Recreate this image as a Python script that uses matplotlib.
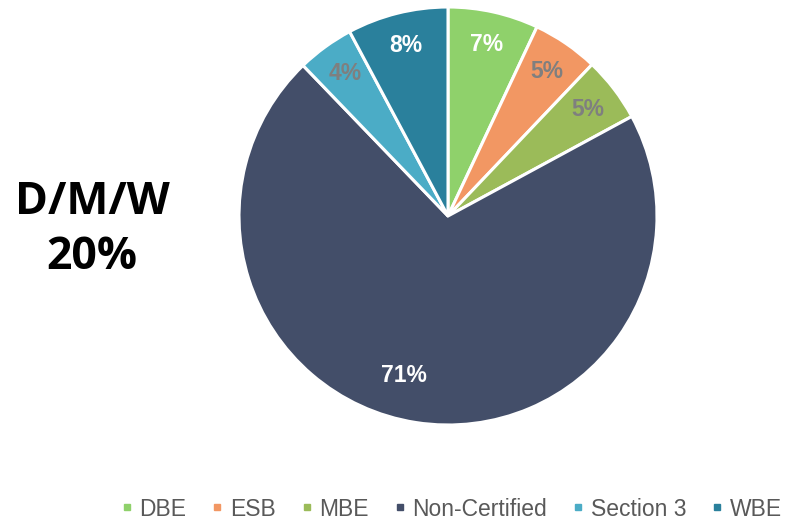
import matplotlib
matplotlib.use("Agg")
import matplotlib.pyplot as plt
from matplotlib.lines import Line2D

categories = ["DBE", "ESB", "MBE", "Non-Certified", "Section 3", "WBE"]
values = [7.0, 5.1, 5.0, 70.7, 4.4, 7.8]
colors = ["#8FD16B", "#F29763", "#9BBB59", "#434E69", "#4BACC6", "#2A809C"]
label_colors = ["white", "#7F7F7F", "#7F7F7F", "white", "#7F7F7F", "white"]
side_title = "D/M/W\n20%"

fig = plt.figure(figsize=(7.92, 5.24), dpi=100)
W, H = 792, 524
cx, cy, r = 448, 216, 209
ax = fig.add_axes([(cx - r) / W, (H - cy - r) / H, 2 * r / W, 2 * r / H])

wedges, texts, autotexts = ax.pie(
    values, colors=colors, startangle=90, counterclock=False,
    autopct="%.0f%%", pctdistance=0.84, radius=1.0,
    wedgeprops=dict(edgecolor="white", linewidth=2.2),
    textprops=dict(fontsize=16.5, fontweight="bold", family="Liberation Sans"))
for t, c in zip(autotexts, label_colors):
    t.set_color(c)
autotexts[3].set_position((-0.21, -0.765))
ax.set_xlim(-1, 1)
ax.set_ylim(-1, 1)
ax.set_aspect("equal")
ax.axis("off")

fig.text(92 / W, 1 - 230 / H, side_title, ha="center", va="center",
         fontsize=32, fontweight="bold", family="Open Sans", linespacing=1.3)

handles = [Line2D([], [], marker="s", linestyle="none", markersize=4.5,
                  markerfacecolor=c, markeredgecolor=c) for c in colors]
fig.legend(handles, categories, loc="center", bbox_to_anchor=(452 / W, 1 - 509 / H),
           ncol=6, frameon=False, handlelength=0.4, handletextpad=0.35,
           columnspacing=1.15, prop=dict(family="Liberation Sans", size=16.5),
           labelcolor="#595959")

fig.savefig("out.png", dpi=100, facecolor="white")
